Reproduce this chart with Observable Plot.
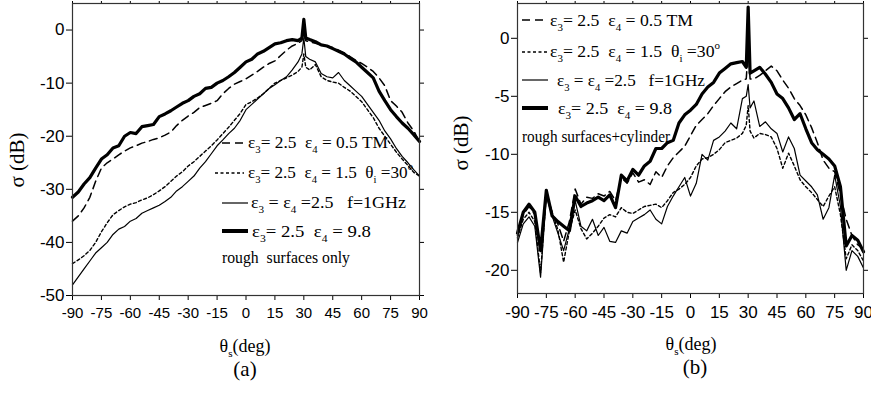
<!DOCTYPE html>
<html><head><meta charset="utf-8">
<script src="https://cdn.jsdelivr.net/npm/d3@7"></script>
<script src="https://cdn.jsdelivr.net/npm/@observablehq/plot@0.6"></script>
<style>
body{margin:0;background:#fff;}
#wrap{display:flex;width:871px;height:393px;overflow:hidden;}
</style></head><body><div id="wrap"></div>
<script>
// scattering angle grid (deg)
const theta = [-90,-87,-84,-81,-78,-75,-72,-69,-66,-63,-60,-57,-54,-51,-48,-45,-42,-39,-36,-33,-30,-27,-24,-21,-18,-15,-12,-9,-6,-3,0,3,6,9,12,15,18,21,24,27,29,30,31,33,36,39,42,45,48,51,54,57,60,63,66,69,72,75,78,81,84,87,90];
const xTicks = [-90,-75,-60,-45,-30,-15,0,15,30,45,60,75,90];
const yTicksA = [-50,-40,-30,-20,-10,0];
const yTicksB = [-20,-15,-10,-5,0];

// (a) rough surfaces only
const a_e05 = [-36.0,-35.0,-33.5,-31.5,-28.5,-26.0,-25.0,-24.3,-23.5,-22.8,
  -22.2,-21.8,-21.3,-21.0,-20.6,-20.3,-19.8,-19.2,-18.0,-17.0,
  -16.2,-15.5,-14.6,-14.2,-13.8,-13.3,-12.0,-11.0,-10.2,-9.7,
  -9.2,-8.5,-7.8,-7.0,-6.3,-5.8,-4.8,-3.8,-3.0,-2.5,
  -2.0,-0.5,-2.0,
  -2.2,-2.5,-2.8,-3.0,-3.3,-3.8,-4.3,-5.0,-5.7,-6.3,
  -7.0,-7.8,-9.0,-10.5,-13.3,-14.3,-15.5,-17.5,-19.0,-21.0];
const a_e15 = [-44.0,-43.3,-42.5,-41.5,-40.0,-38.0,-36.3,-34.8,-34.0,-33.3,
  -32.8,-32.5,-32.0,-31.6,-31.0,-30.3,-29.5,-28.5,-27.5,-26.7,
  -25.6,-24.8,-23.8,-22.8,-21.8,-20.7,-19.5,-18.3,-17.0,-15.7,
  -14.0,-13.5,-12.8,-12.0,-11.0,-10.0,-9.5,-9.0,-8.5,-7.8,
  -7.0,-4.5,-7.0,
  -7.5,-6.5,-8.8,-9.5,-9.8,-10.0,-10.8,-11.5,-12.5,-13.5,
  -15.0,-16.5,-18.5,-20.0,-21.5,-23.0,-24.3,-25.5,-26.8,-27.5];
const a_e25 = [-48.0,-46.5,-45.0,-43.5,-42.0,-41.0,-40.0,-38.5,-37.5,-37.0,
  -36.0,-35.5,-34.5,-34.0,-33.5,-33.0,-32.3,-31.5,-30.3,-29.5,
  -28.5,-27.5,-26.0,-24.8,-23.3,-21.8,-20.7,-19.5,-18.5,-17.0,
  -15.0,-14.0,-13.0,-12.0,-11.0,-10.3,-9.5,-8.8,-7.5,-6.0,
  -4.5,-1.5,-5.0,
  -5.5,-6.0,-8.2,-8.8,-9.0,-8.0,-9.5,-10.5,-11.5,-12.5,
  -14.0,-15.5,-17.0,-19.0,-20.5,-22.3,-23.8,-25.0,-26.3,-27.5];
const a_e98 = [-31.5,-30.5,-29.0,-27.8,-26.0,-24.3,-23.5,-22.2,-21.8,-20.0,
  -19.3,-19.5,-18.2,-18.0,-17.8,-16.3,-15.8,-15.2,-14.5,-13.8,
  -13.3,-12.5,-12.0,-11.0,-10.8,-10.0,-9.5,-8.8,-8.0,-7.0,
  -6.0,-5.5,-4.5,-4.0,-3.3,-2.6,-2.4,-2.0,-1.8,-2.0,
  -1.5,2.0,-1.5,
  -1.8,-2.2,-2.8,-3.0,-3.5,-4.0,-4.5,-5.3,-6.0,-7.0,
  -8.0,-9.0,-11.5,-13.3,-15.0,-16.3,-17.5,-18.5,-19.7,-21.0];

// (b) rough surfaces + cylinder
const b_e05 = [-17.0,-15.2,-14.5,-15.2,-18.0,-13.3,-15.0,-16.0,-17.5,-15.8,
  -13.0,-14.3,-13.7,-13.8,-13.4,-13.6,-13.2,-14.0,-12.0,-12.5,
  -11.6,-12.4,-12.2,-12.6,-11.5,-12.0,-11.0,-10.3,-9.8,-9.3,
  -8.4,-7.5,-7.0,-6.5,-5.8,-5.2,-4.6,-4.2,-3.9,-3.6,
  -3.5,-1.0,-3.5,
  -3.5,-3.2,-2.8,-2.4,-2.8,-3.6,-4.3,-5.2,-5.8,-6.6,
  -7.7,-9.0,-10.5,-11.2,-11.5,-13.5,-15.6,-17.0,-17.8,-18.2];
const b_e15 = [-17.2,-15.6,-15.0,-15.8,-20.2,-13.4,-15.0,-16.5,-19.3,-16.6,
  -14.8,-16.4,-17.3,-16.8,-16.2,-15.5,-15.2,-15.4,-14.6,-15.0,
  -15.1,-14.8,-14.5,-14.4,-14.3,-14.6,-14.0,-13.3,-13.0,-12.6,
  -12.0,-11.0,-10.4,-10.3,-10.0,-9.6,-9.0,-8.8,-8.6,-8.2,
  -7.5,-5.8,-8.0,
  -8.6,-8.2,-8.3,-8.5,-9.5,-11.2,-9.9,-11.0,-12.2,-12.8,
  -13.3,-13.9,-14.5,-13.6,-12.8,-15.2,-19.0,-17.8,-18.3,-19.2];
const b_e25 = [-17.6,-16.0,-15.4,-16.2,-20.6,-13.6,-15.3,-16.8,-18.3,-16.4,
  -14.0,-16.2,-16.6,-15.6,-17.0,-16.3,-17.5,-17.6,-16.6,-16.8,
  -15.8,-15.5,-15.2,-14.8,-15.6,-16.0,-14.5,-13.6,-12.8,-12.0,
  -13.6,-12.5,-10.0,-10.5,-8.8,-8.5,-8.0,-7.3,-7.8,-5.2,
  -5.0,-4.0,-6.0,
  -5.4,-7.6,-7.2,-7.8,-8.2,-9.8,-8.5,-9.5,-11.8,-12.3,
  -12.8,-13.5,-15.6,-14.6,-11.8,-14.5,-20.0,-18.3,-18.8,-19.8];
const b_e98 = [-16.8,-15.0,-14.3,-15.0,-18.3,-13.1,-15.3,-15.8,-16.2,-16.6,
  -13.6,-14.5,-14.2,-14.0,-13.7,-14.0,-13.5,-14.6,-11.8,-12.3,
  -11.3,-11.8,-11.0,-10.6,-9.5,-9.5,-9.0,-8.8,-7.3,-6.6,
  -6.2,-5.7,-4.8,-4.2,-3.8,-3.0,-2.6,-2.2,-2.1,-2.0,
  -2.5,2.7,-3.0,
  -2.8,-2.5,-3.1,-3.8,-4.8,-5.2,-6.0,-7.0,-6.5,-7.8,
  -9.0,-9.6,-10.0,-10.4,-11.0,-12.8,-17.9,-17.0,-17.4,-18.4];

const SANS = "'Liberation Sans', Arial, sans-serif";
const SERIF = "'Liberation Serif', 'Times New Roman', serif";

const styles = {
  e05: {strokeWidth: 1.5, strokeDasharray: "8,5"},
  e15: {strokeWidth: 1.4, strokeDasharray: "3,2.5"},
  e25: {strokeWidth: 1.2},
  e98: {strokeWidth: 3.2}
};

function rows(arr) { return theta.map((t, i) => ({theta: t, sigma: arr[i]})); }

function panel({width, marginLeft, marginRight, marginBottom, yDomain, yTicks, xFont, yFont, series}) {
  return Plot.plot({
    width, height: 393, marginLeft, marginRight, marginTop: 3, marginBottom,
    x: {domain: [-90, 90]},
    y: {domain: yDomain},
    style: {fontFamily: SANS, color: "#000", background: "#fff", overflow: "visible"},
    marks: [
      Plot.axisX({ticks: xTicks, anchor: "bottom", tickSize: 5, tickPadding: 7, fontSize: xFont, label: null, tickFormat: d => `${d}`}),
      Plot.axisX({ticks: xTicks, anchor: "top", tickSize: 3, tickFormat: () => "", label: null}),
      Plot.axisY({ticks: yTicks, anchor: "left", tickSize: 6, tickPadding: 2, fontSize: yFont, label: null, tickFormat: d => `${d}`}),
      Plot.axisY({ticks: yTicks, anchor: "right", tickSize: 4, tickFormat: () => "", label: null}),
      ...Object.entries(series).map(([k, arr]) =>
        Plot.line(rows(arr), {x: "theta", y: "sigma", stroke: "#000", strokeLinejoin: "round", ...styles[k]})),
      Plot.frame({stroke: "#333", strokeWidth: 1.2})
    ]
  });
}

function rich(svg, x, y, parts, size, opts = {}) {
  const t = svg.append("text").attr("x", x).attr("y", y)
    .attr("font-family", SERIF).attr("font-size", size).attr("fill", "#000")
    .attr("text-anchor", opts.anchor || "start")
    .style("white-space", "pre");
  if (opts.len) t.attr("textLength", opts.len).attr("lengthAdjust", "spacingAndGlyphs");
  if (opts.transform) t.attr("transform", opts.transform);
  let shift = 0;
  for (const [s, m] of parts) {
    const target = m === 1 ? size * 0.3 : m === 2 ? -size * 0.45 : 0;
    const sp = t.append("tspan").attr("dy", target - shift).text(s);
    if (m) sp.attr("font-size", size * 0.62);
    shift = target;
  }
  return t;
}

const legendTexts = [
  [["ε",0],["3",1],["= 2.5  ε",0],["4",1],[" = 0.5 TM",0]],
  [["ε",0],["3",1],["= 2.5  ε",0],["4",1],[" = 1.5  θ",0],["i",1],[" =30",0],["o",2]],
  [["ε",0],["3",1],[" = ε",0],["4",1],[" =2.5   f=1GHz",0]],
  [["ε",0],["3",1],["= 2.5  ε",0],["4",1],[" = 9.8",0]]
];
const keys = ["e05","e15","e25","e98"];

function legend(svg, L) {
  const g = svg.append("g");
  keys.forEach((k, i) => {
    const s = styles[k];
    const ln = g.append("line").attr("x1", L.lx1[i]).attr("x2", L.lx2[i]).attr("y1", L.ly[i]).attr("y2", L.ly[i])
      .attr("stroke", "#000").attr("stroke-width", k === "e98" ? 4 : s.strokeWidth);
    if (s.strokeDasharray) ln.attr("stroke-dasharray", s.strokeDasharray);
    rich(g, L.tx[i], L.ty[i], legendTexts[i], 17.5, {len: L.tl[i]});
  });
  rich(g, L.nx, L.ny, [[L.note, 0]], 17.5, {len: L.nl});
}

function decorate(svg, D) {
  rich(svg, D.ax, D.ay, [["θ",0],["s",1],["(deg)",0]], 18, {anchor: "middle"});
  rich(svg, D.cx, D.cy, [[D.cap,0]], 21, {anchor: "middle"});
  rich(svg, 0, 0, [["σ (dB)",0]], 21, {anchor: "middle", transform: `translate(${D.yx},${D.yy}) rotate(-90)`});
}

const wrap = document.getElementById("wrap");

const A = panel({width: 440, marginLeft: 72, marginRight: 21, marginBottom: 98, yDomain: [-50, 5], yTicks: yTicksA, xFont: 15, yFont: 17,
  series: {e05: a_e05, e15: a_e15, e25: a_e25, e98: a_e98}});
wrap.appendChild(A);
const svgA = d3.select(A);
legend(svgA, {lx1: [222,215,222,222], lx2: [247,244,248,248], ly: [143,173,203,231],
  tx: [248,248,251,252], ty: [148,178,208,237], tl: [140,165,155,119],
  nx: 222, ny: 263, note: "rough  surfaces only", nl: 128});
decorate(svgA, {ax: 245, ay: 352, cx: 245, cy: 376, cap: "(a)", yx: 24, yy: 160});

const B = panel({width: 431, marginLeft: 77, marginRight: 8, marginBottom: 100, yDomain: [-22, 3], yTicks: yTicksB, xFont: 17, yFont: 17,
  series: {e05: b_e05, e15: b_e15, e25: b_e25, e98: b_e98}});
wrap.appendChild(B);
const svgB = d3.select(B);
legend(svgB, {lx1: [82,82,82,82], lx2: [108,108,108,108], ly: [20,52,80,108],
  tx: [110,110,117,118], ty: [26,57,86,114], tl: [143,170,148,114],
  nx: 82, ny: 142, note: "rough surfaces+cylinder", nl: 148});
decorate(svgB, {ax: 251, ay: 350, cx: 255, cy: 374, cap: "(b)", yx: 28, yy: 143});
</script></body></html>
